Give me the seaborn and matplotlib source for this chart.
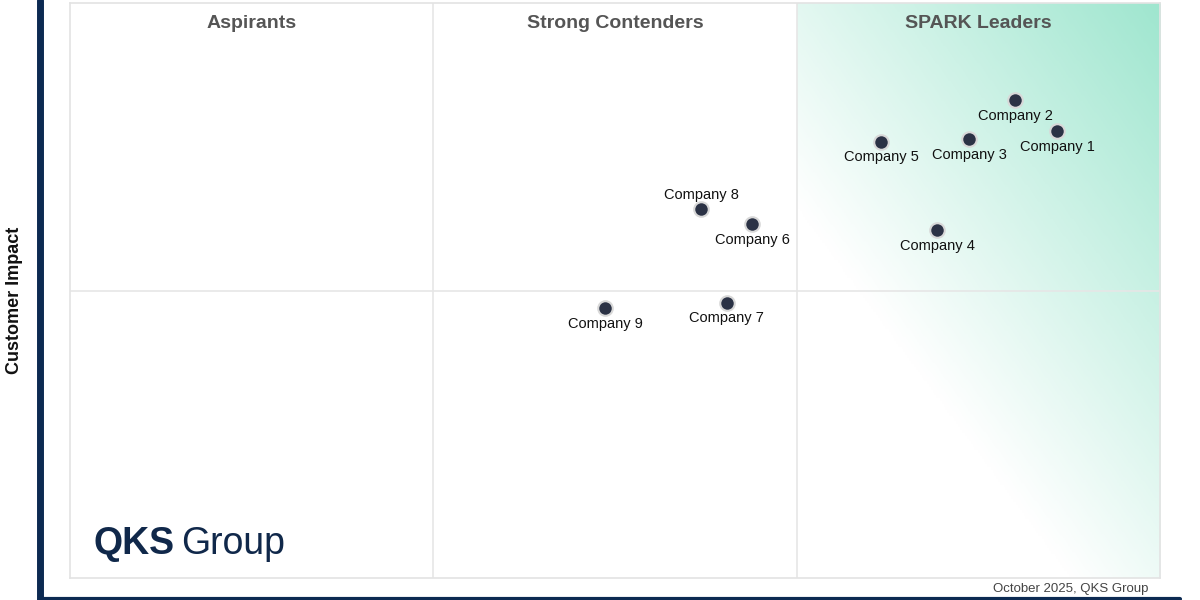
import matplotlib
matplotlib.use("Agg")
import matplotlib.pyplot as plt
import numpy as np
import pandas as pd
import seaborn as sns
from matplotlib.colors import LinearSegmentedColormap

companies = ["Company 1", "Company 2", "Company 3", "Company 4", "Company 5",
             "Company 6", "Company 7", "Company 8", "Company 9"]
x_vals = [2.717, 2.601, 2.475, 2.387, 2.232, 1.877, 1.808, 1.737, 1.473]
y_vals = [1.555, 1.663, 1.527, 1.210, 1.517, 1.231, 0.957, 1.283, 0.939]
quadrants = ["Aspirants", "Strong Contenders", "SPARK Leaders"]

df = pd.DataFrame({"company": companies, "x": x_vals, "y": y_vals})

sns.set_theme(style="white")
plt.rcParams["font.family"] = ["Liberation Sans", "DejaVu Sans"]

fig = plt.figure(figsize=(12, 6), dpi=100)
ax = fig.add_axes([70 / 1200, 22 / 600, 1090 / 1200, 575 / 600])
ax.set_xlim(0, 3)
ax.set_ylim(0, 2)

# gradient in the leaders column, strongest in the top-right corner
gx, gy = np.meshgrid(np.linspace(0, 1, 200), np.linspace(0, 1, 200))
strength = np.clip((gx * 0.6 + gy * 0.7) - 0.45, 0, 1) / 0.85
cmap = LinearSegmentedColormap.from_list("g", ["#ffffff", "#9fe6cf"])
ax.imshow(strength, extent=(2, 3, 0, 2), origin="lower", cmap=cmap,
          vmin=0, vmax=1, aspect="auto", zorder=0)

for v in [1, 2]:
    ax.axvline(v, color="#e6e6e6", lw=1.2, zorder=1)
ax.axhline(1, color="#e6e6e6", lw=1.2, zorder=1)
for s in ax.spines.values():
    s.set_color("#e3e3e3")
    s.set_linewidth(1.2)
ax.set_xticks([])
ax.set_yticks([])

for i, q in enumerate(quadrants):
    ax.text(i + 0.5, 1.93, q, ha="center", va="center", fontsize=14,
            fontweight="bold", color="#555555")

sns.scatterplot(data=df, x="x", y="y", ax=ax, s=110, color="#2b3245",
                edgecolor="#d8d8d8", linewidth=1.5, zorder=3, legend=False)
for _, r in df.iterrows():
    if r["company"] == "Company 8":
        ax.text(r["x"], r["y"] + 0.025, r["company"], ha="center", va="bottom",
                fontsize=10.5, color="#111111")
    else:
        ax.text(r["x"], r["y"] - 0.03, r["company"], ha="center", va="top",
                fontsize=10.5, color="#111111")
ax.set_xlabel("")
ax.set_ylabel("")

# logo
ax.text(0.065, 0.12, "QKS", fontsize=27, fontweight="bold", color="#10284a",
        ha="left", va="center")
ax.text(0.305, 0.12, "Group", fontsize=27, color="#10284a", ha="left", va="center")

fig.text(1148 / 1200, 11 / 600, "October 2025, QKS Group", ha="right",
         va="center", fontsize=9.5, color="#444444")
fig.text(15 / 1200, 0.5, "Customer Impact", rotation=90, ha="center",
         va="center", fontsize=13, fontweight="bold", color="#111111")
fig.add_artist(plt.Line2D([40 / 1200, 40 / 1200], [0, 1], color="#0c2a52",
                          lw=5, transform=fig.transFigure))
fig.add_artist(plt.Line2D([40 / 1200, 1180 / 1200], [1 / 600, 1 / 600],
                          color="#0c2a52", lw=3, transform=fig.transFigure))

fig.savefig("out.png", dpi=100)
